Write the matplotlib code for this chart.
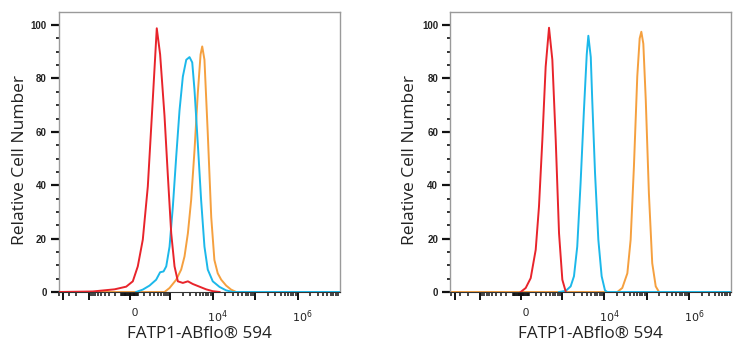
import numpy as np
import matplotlib
matplotlib.use("Agg")
import matplotlib.pyplot as plt
import matplotlib.transforms as mtransforms
from matplotlib.ticker import FixedLocator, FixedFormatter

# ---------------- data (fluorescence intensity, relative cell number) -------------
# Left panel
L_red_x = [-5200, -800, -200, -40, 40, 103, 174, 258, 360, 461, 562, 723, 866, 1052,
           1263, 1516, 1991, 2620, 3420, 4906, 7037, 10100, 14600]
L_red_y = [0, 0.2, 1, 2, 4, 9.6, 19.6, 39.5, 72, 98.8, 89, 66, 44.5, 22,
           9.6, 4, 3.4, 4, 3, 2, 1, 0.3, 0]

L_cyan_x = [82, 174, 291, 444, 562, 684, 797, 959, 1152, 1385, 1660, 1991, 2398, 2864,
            3319, 3752, 4484, 5372, 6438, 7703, 10100, 14600, 20900, 30000, 9.7e6]
L_cyan_y = [0, 0.9, 2.4, 4.6, 7.4, 7.7, 9.6, 17, 32, 50.7, 68, 80.7, 87, 88,
            86, 75.7, 55.7, 34.5, 17, 8.4, 4, 1.9, 0.6, 0, 0]

L_orange_x = [-5200, 723, 959, 1385, 1818, 2180, 2620, 3130, 3752, 4484, 5217, 5705, 6438,
              7703, 9302, 11030, 13230, 15980, 20900, 27300, 36000, 9.7e6]
L_orange_y = [0, 0, 1.5, 4.6, 8.4, 13.3, 22, 34.5, 53, 74.4, 89, 92, 87,
              59.5, 28, 12, 7, 4.6, 2.4, 0.9, 0, 0]

# Right panel
R_red_x = [-4, 57, 122, 196, 252, 318, 393, 482, 586, 711, 857, 1030, 1239]
R_red_y = [0, 1.5, 5.2, 15.8, 32, 57, 84.4, 99, 87, 57, 22, 4.6, 0.2]

R_cyan_x = [857, 1239, 1627, 1951, 2331, 2797, 3352, 3907, 4262, 4862, 5261, 6127,
            7326, 8769, 10500, 11850, 9.7e6]
R_cyan_y = [0, 0.4, 2.1, 5.9, 17, 40.8, 68, 89, 96, 88, 72, 44.5,
            19.6, 5.9, 0.6, 0, 0]

R_orange_x = [-5200, 20500, 26800, 35300, 42200, 50400, 60400, 68800, 75300, 83900,
              95700, 113400, 135900, 164300, 196700, 9.7e6]
R_orange_y = [0, 0, 1.5, 7, 19.6, 47, 80.7, 95, 97.5, 93,
              72, 37, 10.8, 2.1, 0, 0]

x_tick_values = [-4000, -1e3, 0, 1e3, 1e4, 1e5, 1e6]
x_tick_labels = ["", "", "0", "", r"$10^4$", "", r"$10^6$"]
y_ticks = [0, 20, 40, 60, 80, 100]
x_label = "FATP1-ABflo® 594"
y_label = "Relative Cell Number"

RED = "#e8242b"
CYAN = "#1cb8ea"
ORANGE = "#f5a03f"

# ---------------- figure -----------------------------------------------------------
W, H = 744, 350
fig = plt.figure(figsize=(W / 100, H / 100), dpi=100)

C = 222.0
def fwd(x):
    return np.arcsinh(np.asarray(x, dtype=float) / C)
def inv(u):
    return C * np.sinh(np.asarray(u, dtype=float))

XMIN, XMAX = -5200, 9.7e6
YMAX = 104.9
AX_W = 281

# decade minor tick positions
minor_x = []
for n in range(1, 7):
    for k in range(2, 10):
        minor_x.append(k * 10 ** n)
minor_x += [10, 100]
for n in range(1, 4):
    for k in range(1, 10):
        v = -k * 10 ** n
        if v > XMIN:
            minor_x.append(v)


def make_panel(left_px, ylabel_off, series):
    ax = fig.add_axes([left_px / W, (H - 292) / H, AX_W / W, 280 / H])
    ax.set_xscale("function", functions=(fwd, inv))
    for xs, ys, col, z in series:
        ax.plot(xs, ys, color=col, lw=1.4, zorder=z, solid_joinstyle="round")
    ax.set_xlim(XMIN, XMAX)
    ax.set_ylim(0, YMAX)

    for s in ["top", "right", "left"]:
        ax.spines[s].set_color("#9a9a9a")
        ax.spines[s].set_linewidth(1.0)
    ax.spines["bottom"].set_color("#333333")
    ax.spines["bottom"].set_linewidth(0.8)

    # y ticks
    ax.set_yticks(y_ticks)
    ax.set_yticks(np.arange(0, 101, 5), minor=True)
    ax.tick_params(axis="y", which="major", length=5.5, width=1.6, color="#111111",
                   labelsize=7, pad=3)
    ax.tick_params(axis="y", which="minor", length=2.5, width=1.2, color="#111111")
    for lab in ax.get_yticklabels():
        lab.set_fontfamily("Liberation Sans")
        lab.set_fontweight("bold")
        lab.set_color("#222222")

    # x ticks
    ax.xaxis.set_major_locator(FixedLocator(x_tick_values))
    ax.xaxis.set_major_formatter(FixedFormatter(x_tick_labels))
    ax.xaxis.set_minor_locator(FixedLocator(minor_x))
    ax.tick_params(axis="x", which="major", length=5.5, width=1.4, color="#111111",
                   labelsize=8, pad=6, labelcolor="#222222")
    ax.tick_params(axis="x", which="minor", length=3, width=1.1, color="#111111")

    offset = mtransforms.ScaledTranslation(5 / 100, 0, fig.dpi_scale_trans)
    for lab in ax.get_xticklabels():
        lab.set_transform(lab.get_transform() + offset)
        lab.set_fontfamily("Liberation Sans")

    ax.set_xlabel(x_label, fontsize=12.3, family="Open Sans", color="#222222", labelpad=1)
    ax.set_ylabel(y_label, fontsize=12.5, family="Open Sans", color="#222222")
    ax.yaxis.set_label_coords(-ylabel_off / AX_W, 0.47)
    return ax


make_panel(58.5, 30.5, [(L_orange_x, L_orange_y, ORANGE, 2),
                        (L_cyan_x, L_cyan_y, CYAN, 3),
                        (L_red_x, L_red_y, RED, 4)])
make_panel(450, 32.5, [(R_orange_x, R_orange_y, ORANGE, 2),
                       (R_cyan_x, R_cyan_y, CYAN, 3),
                       (R_red_x, R_red_y, RED, 4)])

fig.savefig("out.png", dpi=100, facecolor="white")
